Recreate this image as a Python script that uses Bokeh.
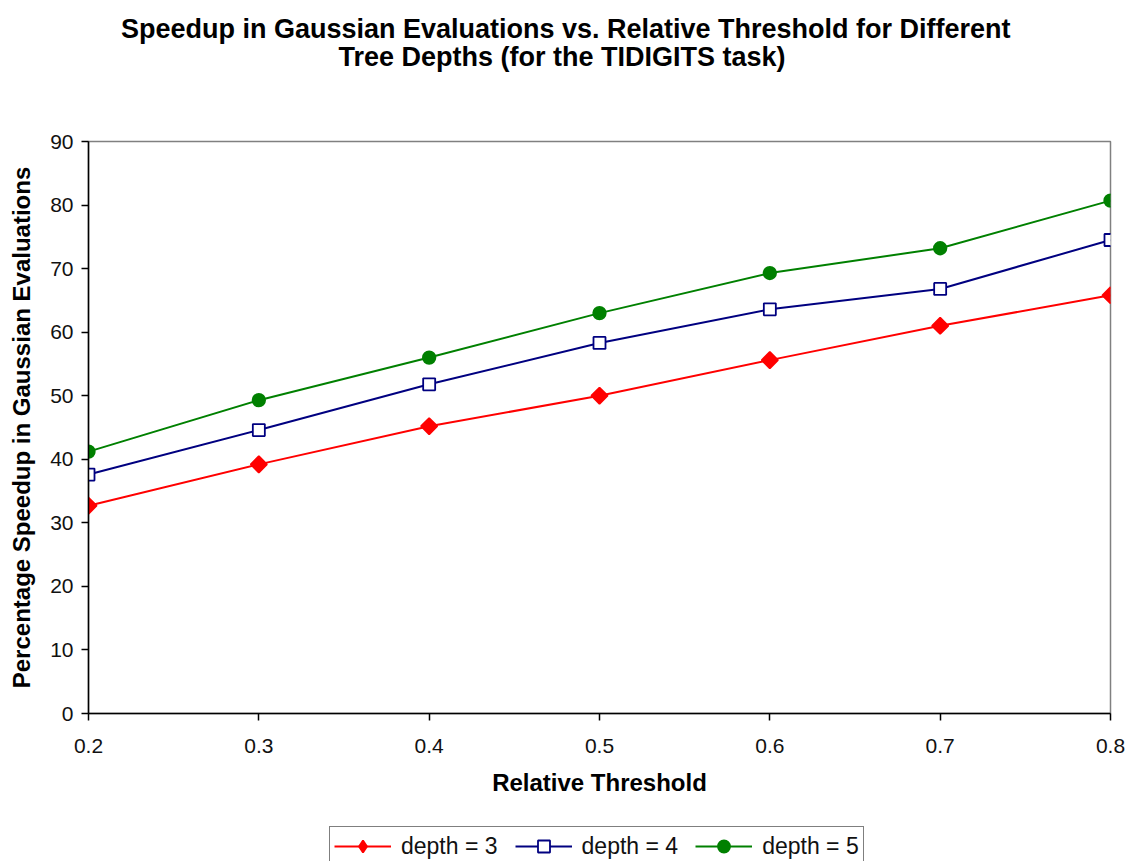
import math
from bokeh.plotting import figure
from bokeh.layouts import column
from bokeh.models import (Range1d, FixedTicker, NumeralTickFormatter, Title,
                          Legend, LegendItem)
from bokeh.embed import file_html
from bokeh.resources import INLINE

# Relative threshold values on the x axis
thresholds = [0.2, 0.3, 0.4, 0.5, 0.6, 0.7, 0.8]

# Percentage speedup in Gaussian evaluations for each tree depth
depth3 = [32.7, 39.2, 45.2, 50.0, 55.6, 61.0, 65.8]
depth4 = [37.6, 44.6, 51.8, 58.3, 63.6, 66.8, 74.5]
depth5 = [41.2, 49.3, 56.0, 63.0, 69.3, 73.2, 80.7]

x_ticks = [0.2, 0.3, 0.4, 0.5, 0.6, 0.7, 0.8]
y_ticks = [0, 10, 20, 30, 40, 50, 60, 70, 80, 90]

title_lines = [
    "Speedup in Gaussian Evaluations vs. Relative Threshold for Different",
    "Tree Depths (for the TIDIGITS task)",
]

FONT = "Liberation Sans"
NBSP = "\u00a0"
# title lines are left-aligned inside the block: indent the second line so it
# sits centred under the first, and pad the block so it is centred on the chart
title_text = (title_lines[0] + NBSP * 9 + "\n" +
              NBSP * 29 + title_lines[1])

p = figure(width=1125, height=810, output_backend="svg", toolbar_location=None,
           x_range=Range1d(0.2, 0.8), y_range=Range1d(0, 90),
           min_border_left=88, min_border_right=15,
           min_border_top=141, min_border_bottom=97)

p.background_fill_color = "white"
p.border_fill_color = "white"
p.outline_line_color = "#808080"
p.outline_line_width = 1.5
p.xgrid.visible = False
p.ygrid.visible = False

# axes
for ax in (p.xaxis[0], p.yaxis[0]):
    ax.axis_line_color = "black"
    ax.axis_line_width = 1.5
    ax.major_tick_line_color = "black"
    ax.major_tick_line_width = 1.5
    ax.major_tick_in = 0
    ax.major_tick_out = 7
    ax.minor_tick_line_color = None
    ax.major_label_text_font = FONT
    ax.major_label_text_font_size = "21px"
    ax.major_label_text_color = "#111111"
    ax.axis_label_text_font = FONT
    ax.axis_label_text_font_style = "bold"
    ax.axis_label_text_font_size = "24px"
    ax.axis_label_text_color = "black"

p.xaxis.ticker = FixedTicker(ticks=x_ticks)
p.xaxis.formatter = NumeralTickFormatter(format="0.0")
p.xaxis.major_label_standoff = 18
p.xaxis.axis_label = "Relative Threshold"
p.xaxis.axis_label_standoff = 13

p.yaxis.ticker = FixedTicker(ticks=y_ticks)
p.yaxis.formatter = NumeralTickFormatter(format="0")
p.yaxis.major_label_standoff = 8
p.yaxis.axis_label = "Percentage Speedup in Gaussian Evaluations"
p.yaxis.axis_label_standoff = 12

# series: (label, values, colour, marker, size, fill, angle, key marker)
series = [
    ("depth = 3", depth3, "#FF0000", "square", 11.5, "#FF0000", math.pi / 4, "diamond"),
    ("depth = 4", depth4, "#000080", "square", 12, "white", 0.0, "square"),
    ("depth = 5", depth5, "#008000", "circle", 12.5, "#008000", 0.0, "circle"),
]

for label, ys, color, marker, size, fill, ang, _ in series:
    p.line(thresholds, ys, line_color=color, line_width=2)
    p.scatter(thresholds, ys, marker=marker, size=size, angle=ang,
              line_color=color, fill_color=fill, line_width=1.8)

# title block above a blank spacer
p.add_layout(Title(text=" ", text_font_size="46px"), "above")
p.add_layout(Title(text=title_text, align="center", text_line_height=0.96,
                   text_font=FONT, text_font_style="bold",
                   text_font_size="27px", text_color="black"), "above")

# legend strip under the chart; its series lie outside the strip's view,
# so only the legend key glyphs are seen
key = figure(width=1125, height=51, output_backend="svg", toolbar_location=None,
             x_range=Range1d(0, 1), y_range=Range1d(0, 1),
             x_axis_location=None, y_axis_location=None, min_border=0)
key.outline_line_color = None
key.grid.visible = False
key.background_fill_color = "white"
key.border_fill_color = "white"

items = []
for label, ys, color, marker, size, fill, ang, key_marker in series:
    kl = key.line(thresholds, ys, line_color=color, line_width=2)
    ks = key.scatter(thresholds, ys, marker=key_marker, line_color=color,
                     fill_color=fill, line_width=1.8)
    items.append(LegendItem(label=label, renderers=[kl, ks]))

legend = Legend(items=items, orientation="horizontal", location=(241, -5),
                label_text_font=FONT, label_text_font_size="23px",
                label_text_color="#111111",
                glyph_width=57, glyph_height=30, label_standoff=10,
                spacing=17, padding=4, margin=0,
                border_line_color="black", border_line_width=1.5,
                background_fill_color="white", background_fill_alpha=1.0)
key.add_layout(legend)

layout = column(p, key, spacing=0)
open("out.html", "w").write(file_html(layout, INLINE))
